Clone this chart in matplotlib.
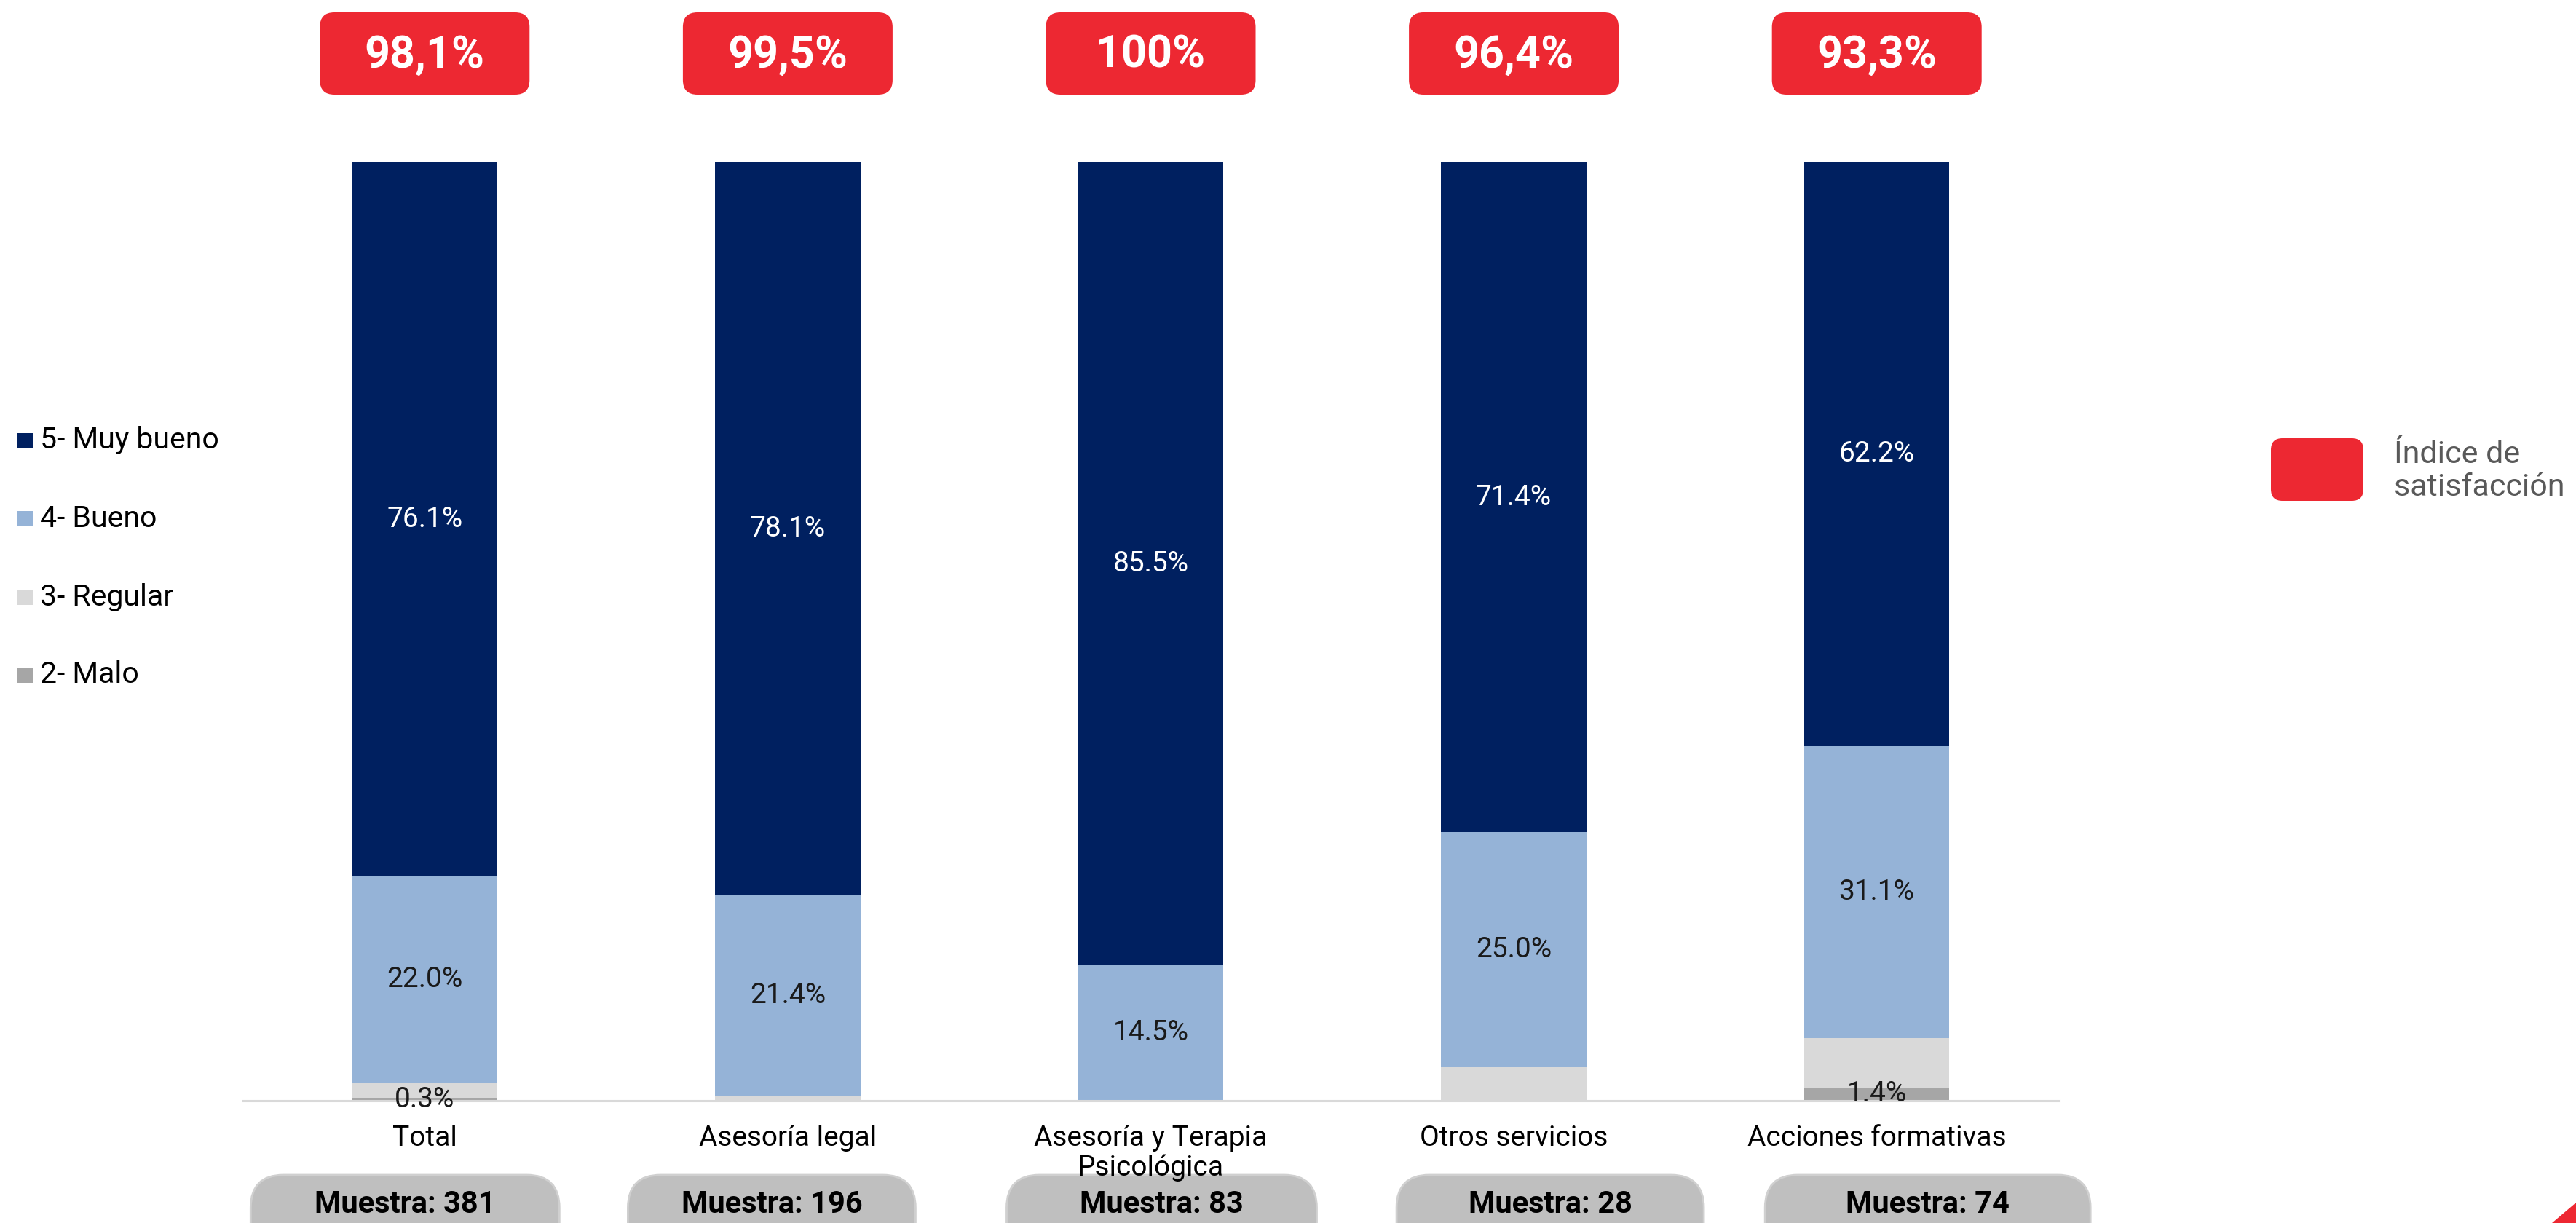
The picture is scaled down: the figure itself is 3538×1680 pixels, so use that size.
import matplotlib
matplotlib.use("Agg")
import matplotlib.pyplot as plt
from matplotlib.patches import FancyBboxPatch, Polygon, Rectangle
import numpy as np

plt.rcParams['font.family'] = ['Roboto', 'DejaVu Sans']

categories = ["Total", "Asesoría legal", "Asesoría y Terapia\nPsicológica", "Otros servicios", "Acciones formativas"]
series_names = ["5- Muy bueno", "4- Bueno", "3- Regular", "2- Malo"]
muy_bueno = [76.1, 78.1, 85.5, 71.4, 62.2]
bueno = [22.0, 21.4, 14.5, 25.0, 31.1]
regular = [1.6, 0.5, 0.0, 3.6, 5.3]
malo = [0.3, 0.0, 0.0, 0.0, 1.4]
satisfaccion = ["98,1%", "99,5%", "100%", "96,4%", "93,3%"]
muestra = [381, 196, 83, 28, 74]

colors = {"5- Muy bueno": "#002060", "4- Bueno": "#95B3D7", "3- Regular": "#D9D9D9", "2- Malo": "#A6A6A6"}
show_label = {"5- Muy bueno": True, "4- Bueno": True, "3- Regular": False, "2- Malo": True}
label_color = {"5- Muy bueno": "white", "4- Bueno": "#1a1a1a", "3- Regular": "#1a1a1a", "2- Malo": "#1a1a1a"}

W, H = 3538, 1680
fig = plt.figure(figsize=(W / 100, H / 100), dpi=100)
fig.patch.set_facecolor("white")

# overlay in pixel coordinates (behind the chart axes)
ov = fig.add_axes([0, 0, 1, 1], zorder=0)
ov.set_xlim(0, W)
ov.set_ylim(H, 0)
ov.axis("off")
ov.patch.set_alpha(0)

ax = fig.add_axes([334 / W, 0.1, (2827 - 334) / W, 0.7673], zorder=1)

x = np.arange(len(categories))
stack_order = [("2- Malo", malo), ("3- Regular", regular), ("4- Bueno", bueno), ("5- Muy bueno", muy_bueno)]
bottom = np.zeros(len(categories))
for name, vals in stack_order:
    vals = np.array(vals)
    ax.bar(x, vals, bottom=bottom, width=0.4, color=colors[name], linewidth=0, zorder=2)
    if show_label[name]:
        for i, v in enumerate(vals):
            if v > 0:
                ax.text(x[i], bottom[i] + v / 2, f"{v:.1f}%", ha="center", va="center",
                        fontsize=28, color=label_color[name], zorder=3)
    bottom += vals

ax.set_xlim(-0.5, 4.5)
ax.set_ylim(0, 100)
ax.set_yticks([])
ax.set_xticks(x)
ax.set_xticklabels(categories, fontsize=28, color="#000000", linespacing=1.12)
ax.tick_params(axis="x", length=0, pad=24)
for s in ["top", "left", "right"]:
    ax.spines[s].set_visible(False)
ax.spines["bottom"].set_color("#D9D9D9")
ax.spines["bottom"].set_linewidth(2.2)
ax.patch.set_alpha(0)

fig.canvas.draw()
centers = [ax.transData.transform((xi, 0))[0] for xi in x]

red = "#ED2832"
# satisfaction boxes
bw, bh, btop = 288, 113, 17
for c, s in zip(centers, satisfaccion):
    ov.add_patch(FancyBboxPatch((c - bw / 2 + 18, btop + 18), bw - 36, bh - 36,
                                boxstyle="round,pad=18,rounding_size=20",
                                facecolor=red, edgecolor="none"))
    ov.text(c, btop + bh / 2 + 2, s, ha="center", va="center", fontsize=44,
            fontweight="bold", color="white")

# muestra pills
pill_offsets = [-27, -22, 15, 50, 70]
pill_widths = [424, 395, 426, 422, 447]
for c, off, pw, m in zip(centers, pill_offsets, pill_widths, muestra):
    cx = c + off
    ov.add_patch(FancyBboxPatch((cx - pw / 2 + 45, 1614 + 45), pw - 90, 60,
                                boxstyle="round,pad=45,rounding_size=45",
                                facecolor="#BFBFBF", edgecolor="#D0D0D0", linewidth=2))
    ov.text(cx, 1655, f"Muestra: {m}", ha="center", va="center", fontsize=30,
            fontweight="bold", color="#000000")

# left legend
leg_y = [605, 712, 820, 927]
for name, ly in zip(series_names, leg_y):
    ov.add_patch(Rectangle((24, ly - 10.5), 21, 21, facecolor=colors[name], edgecolor="none"))
    ov.text(55, ly, name, ha="left", va="center", fontsize=29.5, color="#000000")

# right legend
ov.add_patch(FancyBboxPatch((3119 + 15, 602 + 15), 127 - 30, 86 - 30,
                            boxstyle="round,pad=15,rounding_size=16",
                            facecolor=red, edgecolor="none"))
ov.text(3288, 647, "Índice de\nsatisfacción", ha="left", va="center", fontsize=31,
        color="#595959", linespacing=1.1)

# decorative corner triangle
ov.add_patch(Polygon([[3505, H], [W, 1652], [W, H]], closed=True, facecolor=red, edgecolor="none"))

fig.savefig("out.png", dpi=100, facecolor="white")
